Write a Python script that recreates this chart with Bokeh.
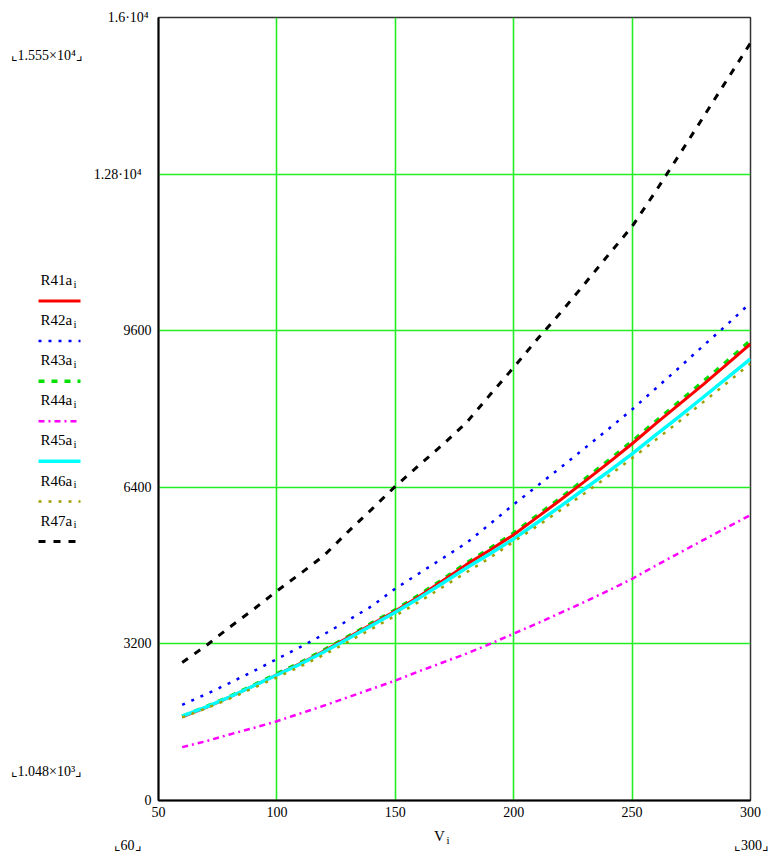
from bokeh.plotting import figure
from bokeh.models import Range1d, FixedTicker
from bokeh.layouts import row, column
from bokeh.core.properties import value
from bokeh.embed import file_html
from bokeh.resources import INLINE

# ---------------- data ----------------
V = [60, 70, 80, 90, 100, 110, 120, 130, 140, 150, 160, 170, 180, 190, 200,
     210, 220, 230, 240, 250, 260, 270, 280, 290, 300]

R41a = [1710, 1900, 2110, 2340, 2570, 2800, 3060, 3330, 3600, 3870, 4170, 4490, 4820,
        5120, 5430, 5790, 6150, 6520, 6900, 7290, 7700, 8100, 8500, 8910, 9330]
R42a = [1955, 2170, 2400, 2640, 2890, 3140, 3400, 3680, 3970, 4330, 4640, 4950, 5260,
        5650, 6050, 6430, 6810, 7200, 7590, 7990, 8420, 8850, 9290, 9720, 10170]
R43a = [1720, 1915, 2125, 2355, 2590, 2820, 3080, 3350, 3625, 3895, 4200, 4520, 4850,
        5155, 5465, 5830, 6190, 6565, 6950, 7340, 7750, 8155, 8560, 8975, 9400]
R44a = [1090, 1210, 1350, 1480, 1620, 1780, 1940, 2110, 2280, 2450, 2640, 2820, 3000,
        3200, 3410, 3620, 3840, 4060, 4290, 4530, 4800, 5060, 5320, 5580, 5830]
R45a = [1725, 1910, 2115, 2340, 2565, 2790, 3040, 3305, 3575, 3845, 4135, 4440, 4750,
        5040, 5345, 5680, 6020, 6370, 6720, 7085, 7470, 7850, 8240, 8630, 9025]
R46a = [1700, 1880, 2080, 2295, 2515, 2740, 2980, 3240, 3505, 3775, 4060, 4360, 4660,
        4960, 5290, 5610, 5940, 6280, 6630, 6995, 7370, 7750, 8140, 8530, 8930]
R47a = [2820, 3160, 3540, 3900, 4280, 4640, 5010, 5490, 5950, 6420, 6850, 7270, 7720,
        8290, 8850, 9430, 9980, 10560, 11150, 11730, 12450, 13200, 13960, 14720, 15480]

x_ticks = [50, 100, 150, 200, 250, 300]
y_ticks = [0, 3200, 6400, 9600, 12800, 16000]
y_tick_labels = {12800: "1.28·10⁴\u2002\u2009", 16000: "1.6·10⁴\u2009"}
legend_names = ["R41a", "R42a", "R43a", "R44a", "R45a", "R46a", "R47a"]
x_limits = ["⌞60⌟", "⌞300⌟"]
y_limits = ["⌞1.555×10⁴⌟", "⌞1.048×10³⌟"]
x_label, x_sub = "V", "i"

# ---------------- layout (page pixels) ----------------
PW, PH = 769, 854
LW = 90                  # left strip (legend, y limits)
MW = PW - LW             # main plot width
MH = 826                 # main plot height
BH = PH - MH             # bottom strip (x limits, axis label)
FL, FR, FT, FB = 155, 750, 17, 800   # frame edges in page px
FONT = "Liberation Serif"

styles = {
    "R41a": dict(line_color="#ff0000", line_width=3, line_dash="solid"),
    "R42a": dict(line_color="#0000ff", line_width=2.5, line_dash="3 7"),
    "R43a": dict(line_color="#00e000", line_width=3.5, line_dash="6 7"),
    "R44a": dict(line_color="#ff00ff", line_width=2.5, line_dash="6 4 2 4"),
    "R45a": dict(line_color="#00ffff", line_width=3.5, line_dash="solid"),
    "R46a": dict(line_color="#a0a000", line_width=2.5, line_dash="3 7"),
    "R47a": dict(line_color="#000000", line_width=3, line_dash="7 8"),
}
series = {"R41a": R41a, "R42a": R42a, "R43a": R43a, "R44a": R44a,
          "R45a": R45a, "R46a": R46a, "R47a": R47a}

# ---------------- main plot ----------------
p = figure(width=MW, height=MH, output_backend="svg", toolbar_location=None,
           x_range=Range1d(50, 300), y_range=Range1d(0, 16000),
           min_border_left=FL - LW, min_border_right=PW - FR,
           min_border_top=FT, min_border_bottom=MH - FB)
p.background_fill_color = "white"
p.border_fill_color = "white"
p.outline_line_color = "#333333"
p.outline_line_width = 1.5

for ax in (p.xaxis, p.yaxis):
    ax.major_tick_line_color = None
    ax.minor_tick_line_color = None
    ax.major_tick_out = 0
    ax.major_tick_in = 0
    ax.axis_line_color = "black"
    ax.axis_line_width = 2
    ax.major_label_text_font = FONT
    ax.major_label_text_font_size = "14px"
    ax.major_label_text_color = "black"

p.xaxis.ticker = FixedTicker(ticks=x_ticks)
p.yaxis.ticker = FixedTicker(ticks=y_ticks)
p.yaxis.major_label_overrides = y_tick_labels
p.xaxis.major_label_standoff = 6
p.yaxis.major_label_standoff = 7

p.xgrid.ticker = FixedTicker(ticks=x_ticks[1:])
p.ygrid.ticker = FixedTicker(ticks=y_ticks[1:-1])
for g in (p.xgrid, p.ygrid):
    g.grid_line_color = "#22ee22"
    g.grid_line_width = 1.6
    g.grid_line_alpha = 1.0

draw_order = ["R43a", "R41a", "R42a", "R44a", "R45a", "R46a", "R47a"]
for name in draw_order:
    p.line(V, series[name], **styles[name])

# ---------------- left strip: legend (name above sample) + y limits ----------------
left = figure(width=LW, height=MH, output_backend="svg", toolbar_location=None,
              x_range=Range1d(0, LW), y_range=Range1d(MH, 0),
              x_axis_type=None, y_axis_type=None, min_border=0)
left.outline_line_color = None
left.background_fill_color = "white"
left.border_fill_color = "white"

LEG_Y0 = 299
LEG_STEP = 42.3
sample_y = [LEG_Y0 + k * LEG_STEP for k in range(len(legend_names))]
text_y = [y - 22 for y in sample_y]
for name, y in zip(legend_names, sample_y):
    left.line([38, 80], [y, y], **styles[name])
left.text(x=[40] * len(legend_names), y=text_y, text=legend_names,
          text_font=value(FONT), text_font_size=value("15px"),
          text_baseline="middle", text_align="left", text_color="black")
left.text(x=[73] * len(legend_names), y=[y + 4 for y in text_y],
          text=[x_sub] * len(legend_names),
          text_font=value(FONT), text_font_size=value("11px"),
          text_baseline="middle", text_align="left", text_color="black")
left.text(x=[10, 10], y=[40, 795], text=y_limits,
          text_font=value(FONT), text_font_size=value("14px"),
          text_baseline="middle", text_align="left", text_color="black")

# ---------------- bottom strip: x limits + axis label ----------------
bottom = figure(width=PW, height=BH, output_backend="svg", toolbar_location=None,
                x_range=Range1d(0, PW), y_range=Range1d(PH, MH),
                x_axis_type=None, y_axis_type=None, min_border=0)
bottom.outline_line_color = None
bottom.background_fill_color = "white"
bottom.border_fill_color = "white"
bottom.text(x=[127, 751], y=[845, 845], text=x_limits,
            text_font=value(FONT), text_font_size=value("14px"),
            text_baseline="middle", text_align="center", text_color="black")
bottom.text(x=[439], y=[835], text=[x_label],
            text_font=value(FONT), text_font_size=value("15px"),
            text_baseline="middle", text_align="center", text_color="black")
bottom.text(x=[446], y=[839], text=[x_sub],
            text_font=value(FONT), text_font_size=value("11px"),
            text_baseline="middle", text_align="left", text_color="black")

layout = column(row(left, p), bottom)
open("out.html", "w").write(file_html(layout, INLINE))
